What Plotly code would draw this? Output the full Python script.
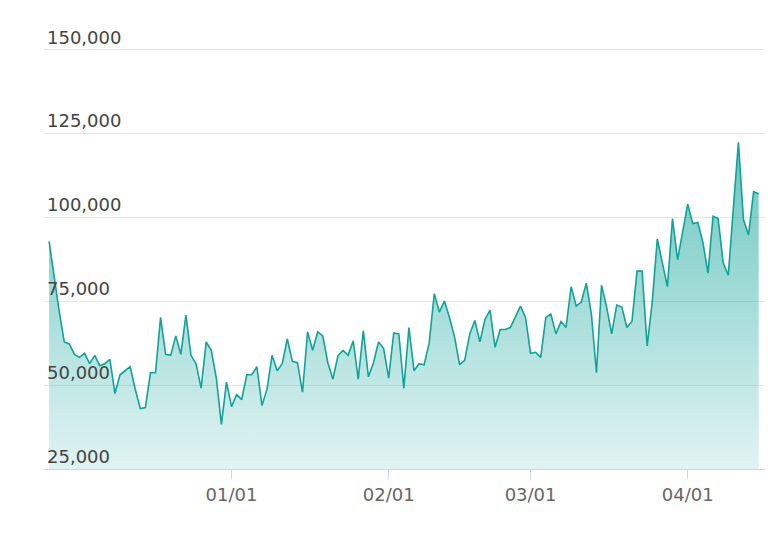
from plotly import graph_objs as go
import pandas as pd

start_date = "2020-11-26"
values = [
    92900, 82000, 72000, 62900, 62300, 59200, 58300, 59500, 56400, 58900,
    55800, 56400, 57700, 47500, 53100, 54300, 55500, 48800, 43000, 43300,
    53700, 53700, 70200, 59200, 58900, 64700, 59200, 70900, 58900, 56400,
    49100, 62900, 60400, 52100, 38300, 50900, 43600, 47200, 45700, 53100,
    53100, 55500, 43900, 48800, 58900, 54300, 56400, 63800, 57100, 56700,
    47900, 65900, 60400, 65900, 64700, 56700, 51800, 58800, 60400, 58900,
    63200, 51800, 66300, 52500, 56700, 62900, 61000, 52100, 65600, 65300,
    49100, 67200, 54300, 56400, 56100, 62600, 77300, 71800, 75100, 70200,
    64400, 56100, 57400, 65300, 69300, 62900, 69600, 72400, 61300, 66600,
    66600, 67200, 70500, 73600, 70200, 59500, 59800, 58300, 70200, 71200,
    65300, 69000, 67200, 79400, 73600, 74800, 80400, 71200, 53700, 79800,
    73300, 65300, 73900, 73300, 67200, 69000, 84000, 84000, 61700, 74800,
    93600, 86500, 79400, 99700, 87400, 95700, 104000, 98200, 98500, 92600,
    83400, 100400, 99700, 86500, 82800, 102600, 122400, 99400, 94800, 107700,
    107100,
]
dates = pd.date_range(start_date, periods=len(values), freq="D")
tick_dates = ["2020-12-01", "2021-01-01", "2021-02-01", "2021-03-01", "2021-04-01"]
y_ticks = [25000, 50000, 75000, 100000, 125000, 150000]

fig = go.Figure(go.Scatter(
    x=dates, y=values, mode="lines",
    line={"color": "#0fa39a", "width": 1.6},
    fill="tozeroy",
    fillgradient=dict(type="vertical", colorscale=[
        [0, "rgba(15,163,154,0.0)"], [1, "rgba(15,163,154,0.62)"]]),
    showlegend=False,
))

fig.update_layout(
    width=776, height=534,
    margin=dict(l=36, r=19, t=10, b=73),
    plot_bgcolor="white", paper_bgcolor="white",
    font=dict(family="DejaVu Sans", size=18, color="#666666"),
    xaxis=dict(
        range=["2020-11-25", "2021-04-16 06:00"],
        tickvals=tick_dates, tickformat="%m/%d", automargin=False,
        showgrid=False, showline=True, linecolor="#ccd6eb", linewidth=1,
        ticks="outside", ticklen=9, tickcolor="#ccd6eb",
    ),
    yaxis=dict(
        range=[25000, 159500], tickvals=y_ticks, tickformat=",d",
        ticklabelposition="inside top", automargin=False,
        gridcolor="#e6e6e6", gridwidth=1, zeroline=False,
    ),
)

fig.write_html("out.html")
